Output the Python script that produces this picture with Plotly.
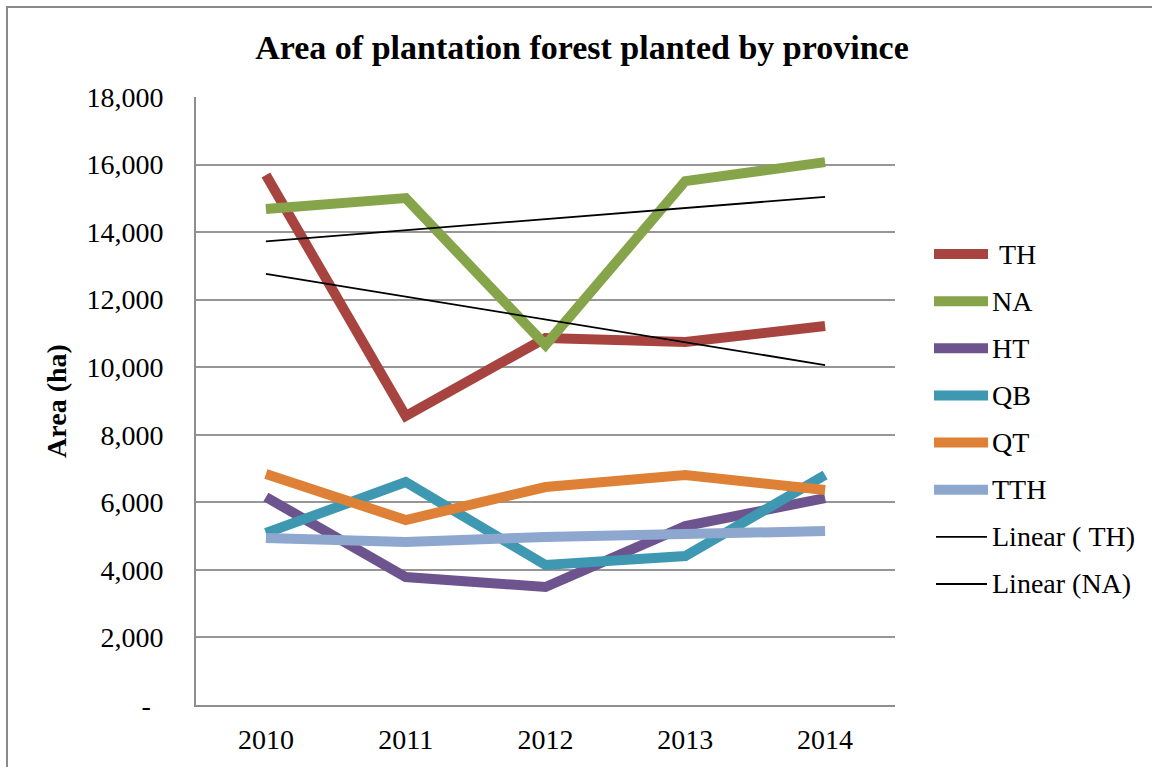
import numpy as np
import plotly.graph_objects as go

years = ["2010", "2011", "2012", "2013", "2014"]
series_names = ["TH", "NA", "HT", "QB", "QT", "TTH"]
legend_labels = [" TH", "NA", "HT", "QB", "QT", "TTH", "Linear ( TH)", "Linear (NA)"]
th = [15690, 8555, 10864, 10745, 11219]
na = [14682, 15007, 10656, 15510, 16073]
ht = [6157, 3789, 3493, 5298, 6127]
qb = [5091, 6600, 4144, 4410, 6808]
qt = [6838, 5476, 6453, 6808, 6364]
tth = [4943, 4825, 4973, 5032, 5150]
colors = ["#A8443F", "#86A54A", "#6D548E", "#3E98B2", "#DE8137", "#8EA7CE"]
ytick_vals = [0, 2000, 4000, 6000, 8000, 10000, 12000, 14000, 16000, 18000]
ytick_text = ["-\u00a0\u2009"] + [f"{v:,}" for v in ytick_vals[1:]]

values = [th, na, ht, qb, qt, tth]
FONT = "Liberation Serif"

fig = go.Figure()
for name, vals, col in zip(series_names, values, colors):
    fig.add_trace(go.Scatter(x=years, y=vals, mode="lines", name=name,
                             line=dict(color=col, width=10), showlegend=False,
                             hoverinfo="skip"))

# linear trendlines (least squares over the series)
idx = np.arange(len(years))
for vals in (th, na):
    slope, intercept = np.polyfit(idx, vals, 1)
    fig.add_trace(go.Scatter(x=years, y=list(intercept + slope * idx), mode="lines",
                             line=dict(color="black", width=1.8), showlegend=False,
                             hoverinfo="skip"))

W, H = 1152, 767
L, R, T, B = 196, 895, 97, 705
pw, ph = R - L, B - T

def px_x(p):
    return (p - L) / pw

def px_y(p):
    return (B - p) / ph

shapes = []
annotations = []
# outer chart border
shapes.append(dict(type="rect", xref="paper", yref="paper",
                   x0=px_x(7), x1=px_x(W + 20), y0=px_y(H + 20), y1=px_y(7),
                   line=dict(color="#8A8A8A", width=2), fillcolor="rgba(0,0,0,0)",
                   layer="below"))

# custom legend
leg_colors = colors + ["black", "black"]
y0, step = 254, 47.14
for i, (lab, col) in enumerate(zip(legend_labels, leg_colors)):
    yy = px_y(y0 + i * step)
    if i < len(series_names):
        shapes.append(dict(type="line", xref="paper", yref="paper",
                           x0=px_x(934), x1=px_x(988), y0=yy, y1=yy,
                           line=dict(color=col, width=10)))
    else:
        shapes.append(dict(type="line", xref="paper", yref="paper",
                           x0=px_x(936), x1=px_x(987), y0=yy, y1=yy,
                           line=dict(color=col, width=1.8)))
    annotations.append(dict(text=lab.replace(" ", "\u00a0"), xref="paper", yref="paper",
                            x=px_x(990), y=yy, xanchor="left", yanchor="middle",
                            showarrow=False, font=dict(family=FONT, size=28, color="black")))

fig.update_layout(
    width=W, height=H, autosize=False,
    margin=dict(l=L, r=W - R, t=T, b=H - B, pad=0, autoexpand=False),
    paper_bgcolor="white", plot_bgcolor="white",
    title=dict(text="<b>Area of plantation forest planted by province</b>",
               x=582 / W, xanchor="center", y=1 - 47 / H, yanchor="middle",
               font=dict(family=FONT, size=34, color="black")),
    font=dict(family=FONT, size=28, color="black"),
    showlegend=False,
    shapes=shapes,
    annotations=annotations,
    xaxis=dict(type="category", range=[-0.5, 4.5], showgrid=False, automargin=False,
               showline=True, linecolor="#8E8E8E", linewidth=2,
               ticks="outside", ticklen=8, tickcolor="rgba(0,0,0,0)",
               tickfont=dict(family=FONT, size=28, color="black")),
    yaxis=dict(range=[0, 18000], tickvals=ytick_vals, ticktext=ytick_text, automargin=False,
               showgrid=True, gridcolor="#969696", gridwidth=2,
               showline=True, linecolor="#8E8E8E", linewidth=2, zeroline=False,
               ticks="outside", ticklen=25, tickcolor="rgba(0,0,0,0)",
               tickfont=dict(family=FONT, size=28, color="black"),
               title=dict(text="<b>Area (ha)</b>", standoff=12,
                          font=dict(family=FONT, size=28, color="black"))),
)

fig.write_html("out.html", config={"displayModeBar": False},
               post_script="document.body.style.margin='0';document.body.style.overflow='hidden';")
